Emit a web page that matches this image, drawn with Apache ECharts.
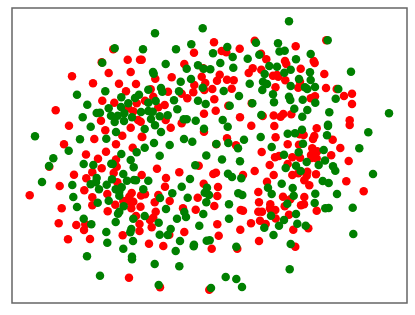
<!DOCTYPE html>
<html><head><meta charset="utf-8">
<style>html,body{margin:0;padding:0;background:#fff}#c{width:415px;height:315px}</style>
<script src="https://cdn.jsdelivr.net/npm/echarts@6/dist/echarts.min.js"></script>
</head><body><div id="c"></div>
<script>
const redPoints = [
[113.3,49.3],[127.7,59.7],[140,59.7],[101.7,62.3],[108.7,73],[130.7,72],[72,76.3],[93,83.3],[119,83.7],[136,84],[126,91.3],[102.3,100.7],[114.3,102.7],[55.7,110.3],[101,120.7],[128.3,108.3],[133.3,111.3],[136.7,103.3],[69,125.7],[105.3,130.3],[130.7,127.7],[94.3,139],[122.3,135.7],[64,144.3],[116,144.3],[132.7,147.7],[86,154.5],[106,151.7],[98,158.8],[116,159.6],[141.7,136.7],[138,120],
[214,42.3],[254.7,40.7],[194,52.7],[221.7,51],[226.3,52.3],[239.7,48.7],[141.7,59.7],[261,53.7],[266.3,59.3],[184.3,64],[203.3,68.3],[252.7,68.3],[248.7,73],[261.3,69.7],[219.7,74.7],[155.3,78.7],[171.7,77.3],[201.7,76.7],[217,80.7],[227,79.7],[233.7,80.3],[273,75.7],[277,75],[278.3,76.7],[205.3,83],[194.3,85],[275.5,87.2],[150.7,89.3],[168,91.7],[212.3,89],[231.7,88.7],[181.7,93.7],[193.3,92.3],[204.3,90],[153.3,96.7],[187.3,98.3],[214.3,99.3],[145,100.7],[158.3,107.3],[164.7,105],[228.3,105.7],[251.7,103.3],[215.7,110.7],[204,113.7],[240,117.3],[273.7,115.5],[262.7,116],[280.6,116.8],[140.7,121.7],[165.7,120],[181.7,123.3],[251.3,125.7],[274.3,126],[170.7,127.7],[204,131.7],[142.3,137],[275.6,137.2],[227,138.3],[216.3,144.3],[236,145.3],[261.7,152],[275,157.3],[279,156],
[295.7,46.3],[326.3,40.3],[313.7,61],[314.7,63],[285,61],[286.3,64],[300.7,68.7],[324.3,74],[285.3,80.3],[300,81.7],[298.3,87.7],[326,88],[336.7,89],[352,93.7],[344,96],[315,96.3],[310.7,98.3],[352,104],[283.3,114],[291.3,114.3],[349.7,120.3],[349.7,125],[316.7,128.3],[303.7,135],[299.7,134.3],[314.3,136],[313,139],[332.7,139.7],[287.7,144.3],[299,144.7],[340.3,148],[312.3,148.3],[317.3,151.3],[292.3,157.3],[300,157.8],[311,155],[311.7,158],[316.7,158.6],[331.2,155.3],[348.7,161],
[49.3,166.7],[116.7,166.7],[101.7,168.3],[74,174.7],[113.7,173],[92.3,172.3],[86.3,178.3],[59.7,186],[117.3,182.3],[29.7,195.3],[84.3,190.3],[107.3,194],[92.3,197.3],[131.7,193],[129.3,196.7],[126.7,201],[130,201.7],[133.3,201.7],[123.3,201],[115.3,204.7],[92.3,205.3],[131.3,208.3],[61.7,208.3],[107.7,211.3],[136,216],[58.7,223.3],[76.3,225],[85.3,224.3],[84,230],[122.7,235.3],[68,239.3],[90,239],[129,277.7],
[157,168.7],[198.7,165.7],[179.3,172.3],[213.3,174],[216,172.7],[243,175],[254.7,171],[269.7,165],[273.7,175],[267,181.7],[166,178],[141.7,175],[203.7,183.7],[165,186.7],[218,187],[258.3,192],[145,194.3],[141,195.5],[158.3,195],[217.3,196],[197.7,197.7],[169.7,201],[154.7,202.3],[259,202.3],[270.3,204.3],[214.3,206],[140.5,206.7],[183,208.3],[195.7,209.7],[240.7,210],[243,210.7],[258.3,211.7],[262,211.7],[270,208.3],[271,210],[275.3,210],[155.7,211.7],[153.3,217.7],[150,220],[275.7,218.5],[260,220.7],[251,223.3],[265.7,224],[217.3,224.3],[139.5,224],[151.7,227.3],[240.3,229.7],[184.3,232],[139.5,231],[169.3,234.7],[218.7,235.7],[149,243.7],[163.3,246],[211.7,248.7],[237.3,248.7],[259,241],[160,287.3],[209.3,289.7],
[287.7,164],[307.3,171.7],[316,174.3],[292.3,175],[298.3,173.3],[306.7,175.7],[304.3,180.3],[346.3,181.3],[309.3,185.3],[363.7,191.3],[283,196.7],[304.3,197],[290.3,199.3],[301,205.3],[304,204.3],[284.7,206.3],[316.7,210.7],[289,214.7],[293.3,229.7],[308.3,228.3],[295.3,246.7]
];
const greenPoints = [
[114.7,48.3],[102.3,62.7],[105.3,91.3],[77,94.7],[87.3,104.7],[121.3,97.3],[128.3,103.3],[135,98],[139,94.7],[108.7,108.3],[121,107],[96.7,113],[100,112.7],[82.7,117.3],[111,115.7],[117.7,115.7],[124.3,113.3],[132,117.3],[141,112],[114.7,122],[124,121],[90.7,126.7],[35,136.3],[80,139.3],[106.3,138.7],[116,132],[68.7,150.7],[53.3,158.2],[121.3,154],[136.7,152.3],
[202.7,28.3],[155,33.3],[191.3,44.3],[176,49.3],[143,49.3],[227.3,47],[256,42.7],[213,53.3],[232.7,57],[247.7,58.7],[259.3,54.7],[278,43.3],[279.5,51.5],[165.7,64],[220.3,63],[198,65.3],[186.7,68.7],[203.7,68.7],[210.3,69.3],[233.3,67.7],[269.3,66],[277,66.7],[153,72],[153.7,73.7],[264.7,74],[191,79],[180.7,81.7],[249.7,83.7],[263,81.7],[267,84],[148.3,89.7],[161,88],[162.3,91.7],[179,91.3],[202.7,87.7],[223.7,91],[262.3,90],[239,96],[273,94.3],[174,100.3],[198,100.7],[205.7,104],[252.3,103.3],[274,102.3],[155.7,101],[148.3,102.7],[229.7,105.7],[177.3,109.3],[148.3,111],[152.7,111.7],[159.7,116.3],[167.7,115.3],[261.3,115],[151,119],[183.7,119.3],[186.7,119.3],[195.7,120.7],[222.7,120],[155,125.3],[144.7,129],[227.7,126.7],[204,128.7],[161,132],[260.7,137],[184,139],[192.3,141.7],[244,139.7],[154,143],[169.7,145],[216.3,144],[228.3,143],[271.7,147],[144.7,147.7],[238,148.3],[159.7,155.8],[206.3,155.6],[222,159.5],[240,161.2],
[289,21.3],[327.7,40.3],[284.7,50.7],[310.7,54],[296,59.3],[290.7,69.7],[284.3,72.7],[310,72.3],[351,71.7],[299,79],[310.7,80],[290.7,86],[305,87.3],[307.3,89],[315,87],[338.3,89],[289,96.7],[290.3,100],[302.7,99.7],[335.7,98.7],[315.3,102.7],[294.3,108.7],[307.3,110],[329.3,112.3],[302.3,116.7],[389,113.3],[328,124.7],[328,126],[302,129.7],[287.7,133.7],[295,133.3],[327,135.3],[368.3,132.3],[303,143.7],[359.3,148.3],[323.7,150],[298.7,152.3],[284,154.7],[325,160.4],
[49,166],[42,182],[83.7,164],[93.3,165],[111.3,163.7],[112.7,164],[130.7,160],[133.7,167.3],[123.3,174],[72.3,185],[96.7,178],[96,182.3],[90.7,184.3],[112,179.3],[106.7,184.7],[127,180.7],[134,180],[136,180.3],[99,189.3],[115.7,189.3],[121.7,187.3],[119.3,191.7],[119.3,195.7],[73.3,197],[108.7,200.7],[97.7,202.7],[77,207],[123.7,206.3],[119.3,211.7],[118,213.7],[133.3,218.7],[83.7,218.7],[91.3,224.3],[115.7,222],[131.3,229],[130.3,232.3],[106.3,232],[133,241],[107.3,242.7],[123.3,248.7],[87,256.3],[132,256.7],[132,259.3],[100,275.7],
[195.3,165.3],[228,173.7],[232,177],[241.3,178.3],[190,179],[148.3,180.7],[181.7,186.7],[143.3,189.3],[207,187.7],[204.7,192.7],[209,195],[172.3,193.3],[160,198],[187.7,197.7],[206.3,202.3],[238.3,193.3],[242.3,195],[268,187.7],[271.7,194],[229,204.3],[166,209],[144.7,216],[184.3,212],[186,217],[203.3,214],[177,218.7],[229,218.7],[271,215.7],[158.7,222.7],[199.3,225.7],[264.3,227.7],[279,225.7],[170.7,229],[159.7,234.7],[167.7,235],[273.5,235],[180,241],[206.7,240.7],[209.7,240.3],[194,244.7],[193.7,246.3],[236.3,246.7],[175.7,251],[154.7,264],[179.3,266.3],[225.7,277],[236.3,279],[158.7,285],[242,287],[211,288],
[306.7,162],[296,165.7],[285.7,168],[318.7,165],[333,166.3],[335.3,170.7],[300.7,171],[373,174],[322.7,181],[328.7,183],[281.7,183.7],[292.7,188],[315.3,193.7],[337,194],[293.7,195.7],[314.7,203],[287.3,203.7],[325.3,208.3],[328.7,208],[352.7,207.7],[296,214],[284,220],[297.3,223.7],[305.7,225.7],[353.3,234],[290.7,244],[289.7,269.3]
];
const chart = echarts.init(document.getElementById('c'), null, {renderer:'canvas'});
const hiddenAxis = {show:false, splitLine:{show:false}};
chart.setOption({
  animation:false,
  backgroundColor:'#fff',
  grid:{left:12,right:8,top:8,bottom:12,show:true,borderColor:'#666',borderWidth:1.5,backgroundColor:'#fff'},
  xAxis:Object.assign({type:'value',min:12,max:407},hiddenAxis),
  yAxis:Object.assign({type:'value',min:8,max:303,inverse:true},hiddenAxis),
  series:[
    {type:'scatter',data:redPoints,symbolSize:8.5,itemStyle:{color:'#ff0000',opacity:1},silent:true},
    {type:'scatter',data:greenPoints,symbolSize:8.5,itemStyle:{color:'#008000',opacity:1},silent:true}
  ]
});
</script></body></html>
